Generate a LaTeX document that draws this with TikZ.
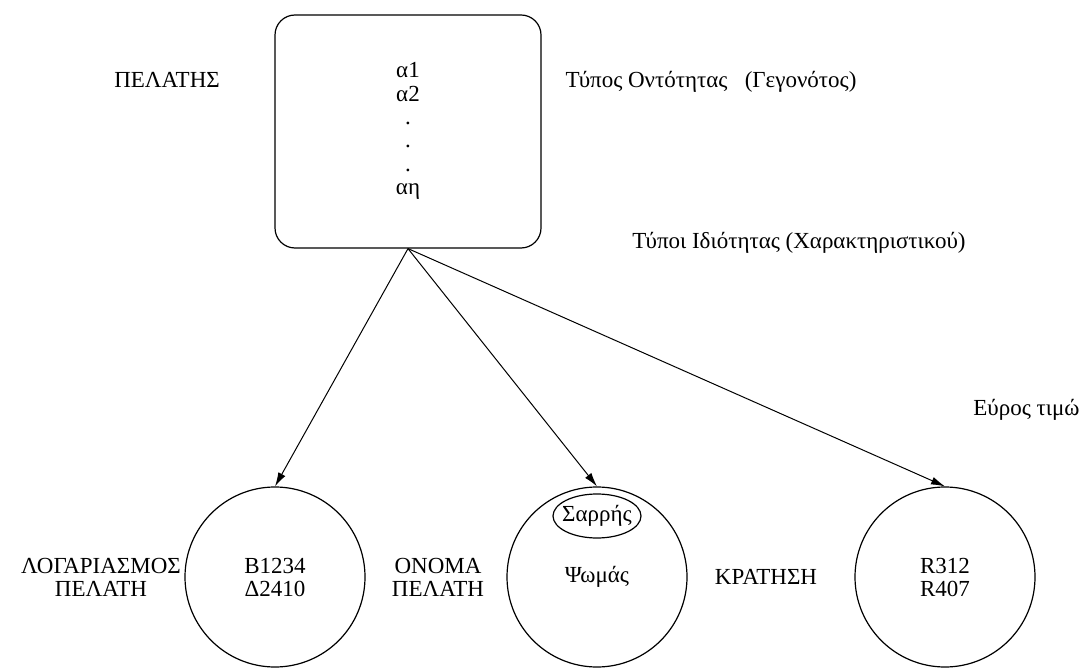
\documentclass[tikz,border=0pt]{standalone}
\usepackage{fontspec}
\setmainfont{Liberation Serif}
\usetikzlibrary{arrows.meta}
\begin{document}
\begin{tikzpicture}[x=0.5pt,y=-0.5pt,
        lbl/.style={font=\fontsize{11.5}{11.5}\selectfont,align=center,inner sep=0pt},
        valset/.style={circle,draw,line width=0.6pt,minimum size=90pt,inner sep=0pt,lbl},
        arr/.style={-{Latex[length=7pt,width=4pt]},line width=0.5pt}]
        \useasboundingbox (0,0) rectangle (1082,668);
        % entity type
        \node[draw,rounded corners=10pt,line width=0.6pt,minimum width=133pt,minimum height=116.5pt] (pelatis) at (408,131.5) {};
        \node[lbl,font=\fontsize{11.5}{11.7}\selectfont] (alist) at (408,131) {α1\\α2\\.\\.\\.\\αη};
        \node[lbl] (pelatisl) at (167,80) {ΠΕΛΑΤΗΣ};
        \node[lbl] (ontotita) at (711,82) {Τύπος Οντότητας\ \ \ (Γεγονότος)};
        \node[lbl] (idiotita) at (799,243) {Τύποι Ιδιότητας (Χαρακτηριστικού)};
        \node[lbl,anchor=east] (evros) at (1080,410) {Εύρος τιμώ};
        % value sets
        \node[valset] (logar) at (275,577) {B1234\\Δ2410};
        \node[valset] (onoma) at (597,577) {Ψωμάς};
        \node[lbl] (sarris) at (597,516) {Σαρρής};
        \draw[line width=0.6pt] (sarris) ellipse (44 and 22);
        \node[valset] (kratisi) at (945,577) {R312\\R407};
        \node[lbl] (logarl) at (101,577) {ΛΟΓΑΡΙΑΣΜΟΣ\\ΠΕΛΑΤΗ};
        \node[lbl] (onomal) at (438,577) {ΟΝΟΜΑ\\ΠΕΛΑΤΗ};
        \node[lbl] (kratisil) at (766,577) {ΚΡΑΤΗΣΗ};
        % attributes
        \draw[arr] (pelatis.south) -- (logar.north);
        \draw[arr] (pelatis.south) -- (onoma.north);
        \draw[arr] (pelatis.south) -- (kratisi.north);
    \end{tikzpicture}
\end{document}
